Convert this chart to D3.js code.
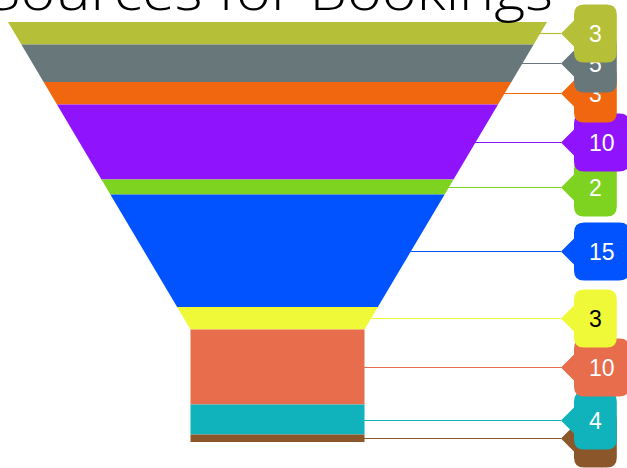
<!DOCTYPE html>
<html>
<head>
<meta charset="utf-8">
<script src="https://cdn.jsdelivr.net/npm/d3@7"></script>
<style>
  body { margin: 0; background: #fff; }
  svg { display: block; }
</style>
</head>
<body>
<div id="chart"></div>
<script>
const width = 627;
const height = 468;
const title = 'Sources for Bookings';

// funnel data, top to bottom
const sources = ['A', 'B', 'C', 'D', 'E', 'F', 'G', 'H', 'I', 'J'];
const values = [3, 5, 3, 10, 2, 15, 3, 10, 4, 1];
const colors = ['#b5bf38', '#67777a', '#f1670f', '#9013fe', '#7ed321',
                '#0053ff', '#f0f938', '#e76d4d', '#10b2bb', '#8b572a'];
const textColors = ['#fff', '#fff', '#fff', '#fff', '#fff',
                    '#fff', '#000', '#fff', '#fff', '#fff'];

const funnelTop = 22;
const funnelBottom = 442;
const neckY = 329.5;
const centerX = 277.5;
const topHalf = 269.5;
const neckHalf = 87;
const tipX = 561;
const boxLeft = 574;

const total = d3.sum(values);
let acc = 0;
const rows = values.map((v, i) => {
  const r = { i, name: sources[i], value: v, start: acc, end: acc + v };
  acc += v;
  return r;
});

const y = d3.scaleLinear().domain([0, total]).range([funnelTop, funnelBottom]);
const halfW = d3.scaleLinear().domain([funnelTop, neckY]).range([topHalf, neckHalf]).clamp(true);
const midY = d => Math.round(y((d.start + d.end) / 2)) + 0.5;

const svg = d3.select('#chart').append('svg')
  .attr('width', width)
  .attr('height', height);

const segPath = d => {
  const y0 = y(d.start), y1 = y(d.end);
  const pts = [[centerX - halfW(y0), y0], [centerX + halfW(y0), y0]];
  if (y0 < neckY && y1 > neckY) {
    pts.push([centerX + neckHalf, neckY]);
    pts.push([centerX + halfW(y1), y1], [centerX - halfW(y1), y1]);
    pts.push([centerX - neckHalf, neckY]);
  } else {
    pts.push([centerX + halfW(y1), y1], [centerX - halfW(y1), y1]);
  }
  return 'M' + pts.map(p => p.join(',')).join('L') + 'Z';
};

svg.append('g')
  .selectAll('path')
  .data(rows)
  .join('path')
  .attr('d', segPath)
  .attr('fill', d => colors[d.i]);

// connectors
svg.append('g')
  .selectAll('line')
  .data(rows)
  .join('line')
  .attr('x1', d => centerX + halfW(midY(d)) - 1)
  .attr('x2', tipX)
  .attr('y1', midY)
  .attr('y2', midY)
  .style('stroke', d => colors[d.i])
  .style('stroke-width', 1.2);

// callout labels, first ones on top
const boxH = 58;
const rad = 10;
const ptr = 13;

const callout = (cy, w) => {
  const l = boxLeft, r = boxLeft + w, t = cy - boxH / 2, b = cy + boxH / 2;
  return `M${l + rad},${t}L${r - rad},${t}Q${r},${t} ${r},${t + rad}` +
    `L${r},${b - rad}Q${r},${b} ${r - rad},${b}L${l + rad},${b}Q${l},${b} ${l},${b - rad}` +
    `L${l},${cy + ptr}L${tipX},${cy}L${l},${cy - ptr}L${l},${t + rad}Q${l},${t} ${l + rad},${t}Z`;
};

const labels = svg.append('g')
  .selectAll('g')
  .data(rows.slice().reverse())
  .join('g');

labels.append('text')
  .attr('x', 0)
  .attr('y', d => midY(d) + 8)
  .attr('text-anchor', 'middle')
  .style('font-family', 'Liberation Sans, Arial, sans-serif')
  .style('font-size', '23px')
  .attr('fill', d => textColors[d.i])
  .text(d => d.value);

labels.each(function (d) {
  const g = d3.select(this);
  const t = g.select('text');
  const w = t.node().getComputedTextLength() + 30;
  g.insert('path', 'text')
    .attr('d', callout(midY(d), w))
    .attr('fill', colors[d.i]);
  t.attr('x', boxLeft + w / 2);
});

svg.append('text')
  .attr('x', -12)
  .attr('y', 10)
  .attr('textLength', 565)
  .attr('lengthAdjust', 'spacingAndGlyphs')
  .style('font-family', 'Century Gothic, URW Gothic, Open Sans, sans-serif')
  .style('font-weight', 300)
  .style('font-size', '54px')
  .attr('fill', '#000')
  .text(title);
</script>
</body>
</html>
